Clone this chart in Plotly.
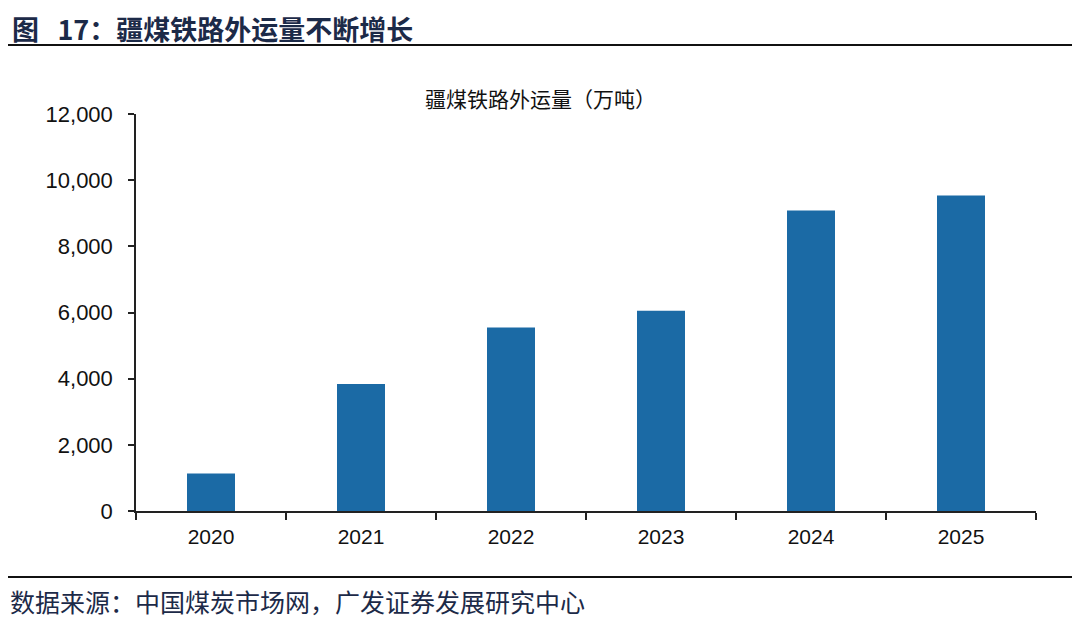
import plotly.graph_objects as go

years = ["2020", "2021", "2022", "2023", "2024", "2025"]
volumes = [1130, 3840, 5550, 6050, 9080, 9540]
y_ticks = [0, 2000, 4000, 6000, 8000, 10000, 12000]

# page has an 8px body margin; figure spans page x 8..1080, y 8..628
OFF = 8
W, H = 1080 - OFF, 628 - OFF
L, R, T, B = 136 - OFF, 44, 114 - OFF, 117
pw = W - L - R
ph = H - T - B

def px(x):
    return (x - OFF - L) / pw

def py(y):
    return (H - B - (y - OFF)) / ph

fig = go.Figure()
fig.add_trace(go.Bar(
    x=years, y=volumes, marker=dict(color="#1b6aa5", line=dict(width=0)),
    width=0.32,
))

fig.update_layout(
    width=W, height=H,
    margin=dict(l=L, r=R, t=T, b=B),
    paper_bgcolor="white", plot_bgcolor="white",
    showlegend=False,
    font=dict(family="Liberation Sans, Arial, sans-serif", size=21, color="#111"),
    xaxis=dict(
        type="category", showgrid=False, showline=True, linecolor="#222", linewidth=1.5,
        ticks="outside", tickson="boundaries", ticklen=7, tickcolor="#222", tickwidth=1.5,
        tickfont=dict(size=21, color="#111"), ticklabelstandoff=6,
    ),
    yaxis=dict(
        range=[0, 12000], tickvals=y_ticks, tickformat=",d", showgrid=False,
        showline=True, linecolor="#222", linewidth=1.5,
        ticks="outside", ticklen=6, tickcolor="#222", tickwidth=1.5,
        tickfont=dict(size=22, color="#111"), zeroline=False, ticklabelstandoff=11,
    ),
    shapes=[
        dict(type="line", xref="paper", yref="paper", x0=px(4), x1=px(1080),
             y0=py(45), y1=py(45), line=dict(color="#111", width=2)),
        dict(type="line", xref="paper", yref="paper", x0=px(4), x1=px(1080),
             y0=py(577), y1=py(577), line=dict(color="#111", width=2)),
    ],
    annotations=[
        dict(text="<b>图   17：疆煤铁路外运量不断增长</b>", xref="paper", yref="paper",
             x=px(10), y=py(28), xanchor="left", yanchor="middle", showarrow=False,
             font=dict(family="Noto Sans CJK SC", size=27, color="#1c2a48")),
        dict(text="疆煤铁路外运量（万吨）", xref="paper", yref="paper",
             x=px(540), y=py(98), xanchor="center", yanchor="middle", showarrow=False,
             font=dict(family="Noto Sans CJK SC", size=21, color="#111")),
        dict(text="数据来源：中国煤炭市场网，广发证券发展研究中心", xref="paper", yref="paper",
             x=px(8), y=py(601), xanchor="left", yanchor="middle", showarrow=False,
             font=dict(family="Noto Sans CJK SC", size=25, color="#1c2a48")),
    ],
)

fig.write_html("out.html")
